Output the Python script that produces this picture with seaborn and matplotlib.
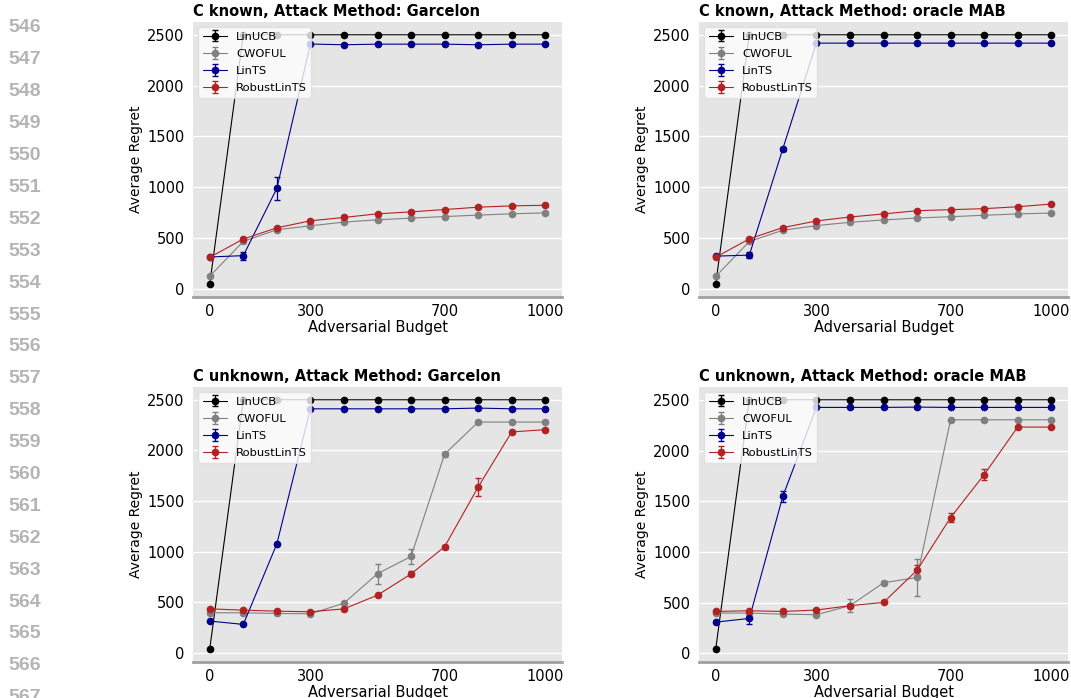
import matplotlib
matplotlib.use("Agg")
import matplotlib.pyplot as plt
import seaborn as sns

# x axis: adversarial budget
budgets = [0, 100, 200, 300, 400, 500, 600, 700, 800, 900, 1000]
methods = ["LinUCB", "CWOFUL", "LinTS", "RobustLinTS"]
colors = ["black", "gray", "darkblue", "firebrick"]

# C known, Garcelon
kg_linucb = [50, 2500, 2500, 2500, 2500, 2500, 2500, 2500, 2500, 2500, 2500]
kg_cwoful = [124, 467, 581, 620, 656, 679, 695, 711, 725, 738, 747]
kg_lints = [313, 326, 989, 2409, 2402, 2408, 2408, 2408, 2402, 2408, 2408]
kg_robust = [310, 490, 600, 669, 702, 738, 757, 780, 803, 816, 822]
kg_linucb_err = [8, 3, 3, 3, 3, 3, 3, 3, 3, 3, 3]
kg_cwoful_err = [10, 12, 10, 8, 8, 8, 8, 8, 8, 8, 8]
kg_lints_err = [10, 40, 115, 8, 8, 8, 8, 8, 8, 8, 8]
kg_robust_err = [10, 12, 10, 10, 10, 10, 10, 10, 10, 10, 10]

# C known, oracle MAB
ko_linucb = [52, 2500, 2500, 2500, 2500, 2500, 2500, 2500, 2500, 2500, 2500]
ko_cwoful = [124, 467, 578, 623, 656, 679, 698, 711, 725, 738, 747]
ko_lints = [323, 333, 1380, 2418, 2418, 2418, 2418, 2418, 2418, 2418, 2418]
ko_robust = [313, 493, 604, 669, 708, 738, 770, 780, 790, 809, 835]
ko_linucb_err = [8, 3, 3, 3, 3, 3, 3, 3, 3, 3, 3]
ko_cwoful_err = [10, 12, 10, 8, 8, 8, 8, 8, 8, 8, 8]
ko_lints_err = [10, 30, 20, 8, 8, 8, 8, 8, 8, 8, 8]
ko_robust_err = [10, 12, 10, 10, 10, 10, 10, 10, 10, 10, 10]

# C unknown, Garcelon
ug_linucb = [39, 2500, 2500, 2500, 2500, 2500, 2500, 2500, 2500, 2500, 2500]
ug_cwoful = [394, 394, 387, 384, 489, 781, 951, 1962, 2280, 2280, 2280]
ug_lints = [312, 279, 1076, 2411, 2411, 2411, 2411, 2411, 2418, 2411, 2411]
ug_robust = [433, 420, 410, 404, 433, 568, 778, 1047, 1637, 2182, 2205]
ug_linucb_err = [8, 3, 3, 3, 3, 3, 3, 3, 3, 3, 3]
ug_cwoful_err = [10, 10, 10, 10, 15, 98, 75, 25, 10, 10, 10]
ug_lints_err = [10, 10, 12, 8, 8, 8, 8, 8, 8, 8, 8]
ug_robust_err = [10, 10, 10, 10, 10, 10, 25, 20, 87, 12, 10]

# C unknown, oracle MAB
uo_linucb = [46, 2500, 2500, 2500, 2500, 2500, 2500, 2500, 2500, 2500, 2500]
uo_cwoful = [397, 397, 387, 381, 470, 696, 748, 2303, 2303, 2303, 2303]
uo_lints = [308, 344, 1549, 2425, 2425, 2425, 2428, 2425, 2425, 2425, 2425]
uo_robust = [413, 420, 413, 427, 470, 502, 820, 1339, 1762, 2231, 2231]
uo_linucb_err = [8, 3, 3, 3, 3, 3, 3, 3, 3, 3, 3]
uo_cwoful_err = [10, 10, 10, 10, 67, 15, 184, 10, 10, 10, 10]
uo_lints_err = [10, 57, 52, 8, 8, 8, 8, 8, 8, 8, 8]
uo_robust_err = [10, 10, 10, 10, 15, 10, 50, 40, 57, 12, 10]

panels = [
    ("C known, Attack Method: Garcelon",
     [kg_linucb, kg_cwoful, kg_lints, kg_robust],
     [kg_linucb_err, kg_cwoful_err, kg_lints_err, kg_robust_err]),
    ("C known, Attack Method: oracle MAB",
     [ko_linucb, ko_cwoful, ko_lints, ko_robust],
     [ko_linucb_err, ko_cwoful_err, ko_lints_err, ko_robust_err]),
    ("C unknown, Attack Method: Garcelon",
     [ug_linucb, ug_cwoful, ug_lints, ug_robust],
     [ug_linucb_err, ug_cwoful_err, ug_lints_err, ug_robust_err]),
    ("C unknown, Attack Method: oracle MAB",
     [uo_linucb, uo_cwoful, uo_lints, uo_robust],
     [uo_linucb_err, uo_cwoful_err, uo_lints_err, uo_robust_err]),
]

xticks = [0, 300, 700, 1000]
yticks = [0, 500, 1000, 1500, 2000, 2500]
line_numbers = [str(n) for n in range(545, 568)]

sns.set_style("darkgrid", {
    "axes.facecolor": "#E5E5E5",
    "grid.color": "white",
    "axes.edgecolor": "#A0A0A0",
    "text.color": "black",
    "axes.labelcolor": "black",
})
plt.rcParams["font.family"] = ["DejaVu Sans"]

W, H = 1071, 698
fig = plt.figure(figsize=(W / 100, H / 100), dpi=100)

# axes boxes in pixels: left, top
boxes = [(193, 22), (699, 22), (193, 387), (699, 387)]
aw, ah = 369, 275

for (title, means, errs), (left, top) in zip(panels, boxes):
    ax = fig.add_axes([left / W, 1 - (top + ah) / H, aw / W, ah / H])
    for name, color, y, e in zip(methods, colors, means, errs):
        ax.errorbar(budgets, y, yerr=e, fmt="-o", color=color, label=name,
                    lw=0.8, markersize=4.5, capsize=2.5, elinewidth=0.9)
    ax.set_xticks(xticks)
    ax.set_yticks(yticks)
    ax.grid(axis="x", visible=False)
    ax.grid(axis="y", color="white", lw=1.0)
    ax.tick_params(axis="both", labelsize=10.5, length=3, width=0.8,
                   colors="#555555", labelcolor="black", pad=2)
    ax.tick_params(axis="y", pad=3)
    for side in ["top", "right", "left"]:
        ax.spines[side].set_visible(False)
    ax.spines["bottom"].set_visible(True)
    ax.spines["bottom"].set_color("#A0A0A0")
    ax.spines["bottom"].set_linewidth(2.0)
    ax.set_title(title, loc="left", fontsize=10.5, fontweight="bold",
                 color="black", pad=4)
    ax.set_xlabel("Adversarial Budget", fontsize=10.5, labelpad=1)
    ax.set_ylabel("Average Regret", fontsize=10, labelpad=3)
    leg = ax.legend(loc="upper left", fontsize=8.25, framealpha=0.8,
                    facecolor="white", edgecolor="#DDDDDD",
                    labelspacing=0.62, handlelength=2.1,
                    borderaxespad=0.45)
    for t in leg.get_texts():
        t.set_color("black")

# line numbers of the page on the left
for i, num in enumerate(line_numbers):
    y = -4 + 31.9 * i
    fig.text(8 / W, 1 - y / H, num, ha="left", va="center",
             fontsize=14, fontweight="bold", color="#B4B4B4",
             family=["Liberation Sans", "DejaVu Sans"])

fig.savefig("out.png", dpi=100)
